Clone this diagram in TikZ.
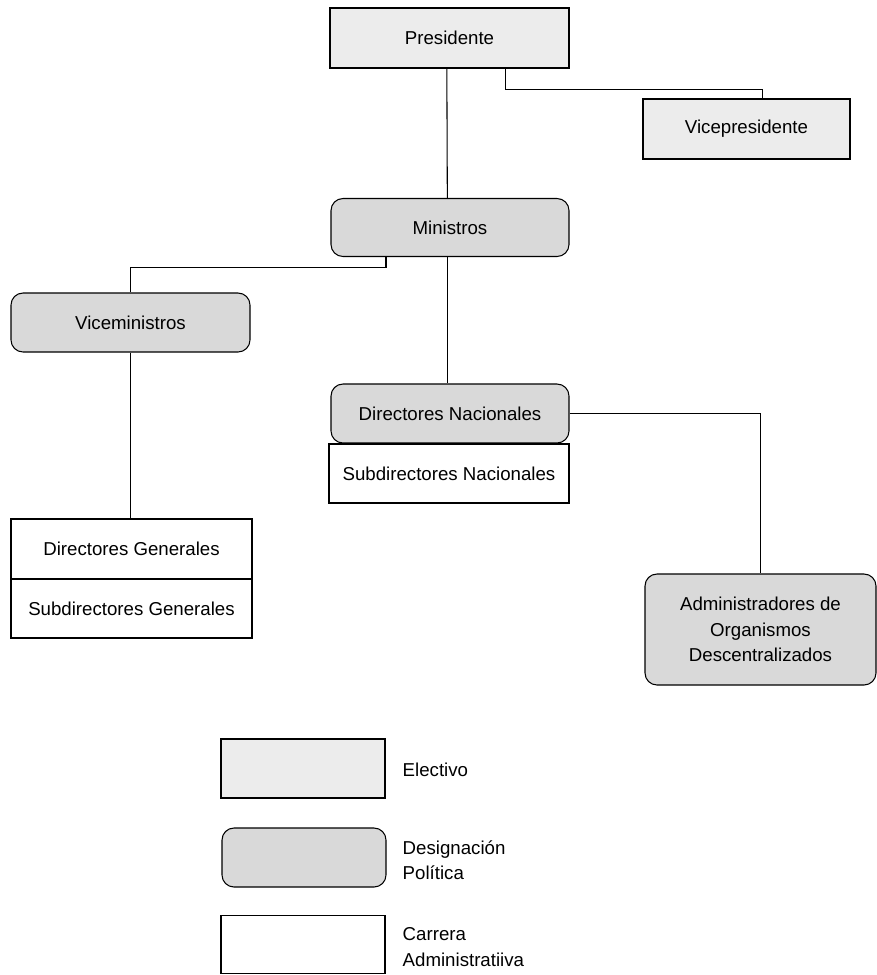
\documentclass[tikz,border=0pt]{standalone}
\usepackage{fontspec}
\setmainfont{Liberation Sans}
\begin{document}
\begin{tikzpicture}[x=0.75pt,y=-0.75pt,
  every node/.style={font=\fontsize{14}{19}\selectfont},
  box/.style={draw,line width=0.8pt,inner sep=0pt,align=center},
  electivo/.style={box,fill=gray!15},
  politica/.style={box,fill=gray!30,rounded corners=9pt},
  carrera/.style={box,fill=white},
  link/.style={line width=0.8pt}]
\useasboundingbox (0,0) rectangle (877,975);

% organigrama
\node[electivo,minimum width=179.25pt,minimum height=45pt] (pres) at (449.5,38) {Presidente};
\node[electivo,minimum width=155.25pt,minimum height=45pt] (vice) at (746.5,129) {Vicepresidente};
\node[politica,minimum width=178.5pt,minimum height=43.5pt] (min) at (450,227.5) {Ministros};
\node[politica,minimum width=179.25pt,minimum height=44.25pt] (vmin) at (130.5,322.5) {Viceministros};
\node[politica,minimum width=178.5pt,minimum height=44.25pt] (dnac) at (450,413.5) {Directores Nacionales};
\node[carrera,minimum width=180pt,minimum height=44.25pt] (snac) at (449,473.5) {Subdirectores Nacionales};
\node[carrera,minimum width=180.75pt,minimum height=45pt] (dgen) at (131.5,549) {Directores Generales};
\node[carrera,minimum width=180.75pt,minimum height=44.25pt] (sgen) at (131.5,608.5) {Subdirectores Generales};
\node[politica,minimum width=173.25pt,minimum height=83.25pt] (adm) at (760.5,629.5) {Administradores de\\Organismos\\Descentralizados};

\draw[link] ([xshift=-2pt]pres.south) -- ([xshift=-2pt]min.north);
\draw[link] ([xshift=42pt]pres.south) -- ++(0,21) -| ([xshift=12pt]vice.north);
\draw[link] ([xshift=-48pt]min.south) -- ++(0,10) -| (vmin.north);
\draw[link] ([xshift=-2pt]min.south) -- ([xshift=-2pt]dnac.north);
\draw[link] (vmin.south) -- (vmin.south |- dgen.north);
\draw[link] (dnac.east) -| (adm.north);

% leyenda
\node[electivo,minimum width=123pt,minimum height=44.25pt] (ley1) at (303,768.5) {};
\node[politica,minimum width=123pt,minimum height=44.25pt] (ley2) at (304,857.5) {};
\node[carrera,minimum width=123pt,minimum height=43.5pt] (ley3) at (303,944.5) {};
\node[anchor=west,align=left] (txt1) at (398,770) {Electivo};
\node[anchor=west,align=left] (txt2) at (398,860) {Designación\\Política};
\node[anchor=west,align=left] (txt3) at (398,947) {Carrera\\Administratiiva};
\end{tikzpicture}
\end{document}
